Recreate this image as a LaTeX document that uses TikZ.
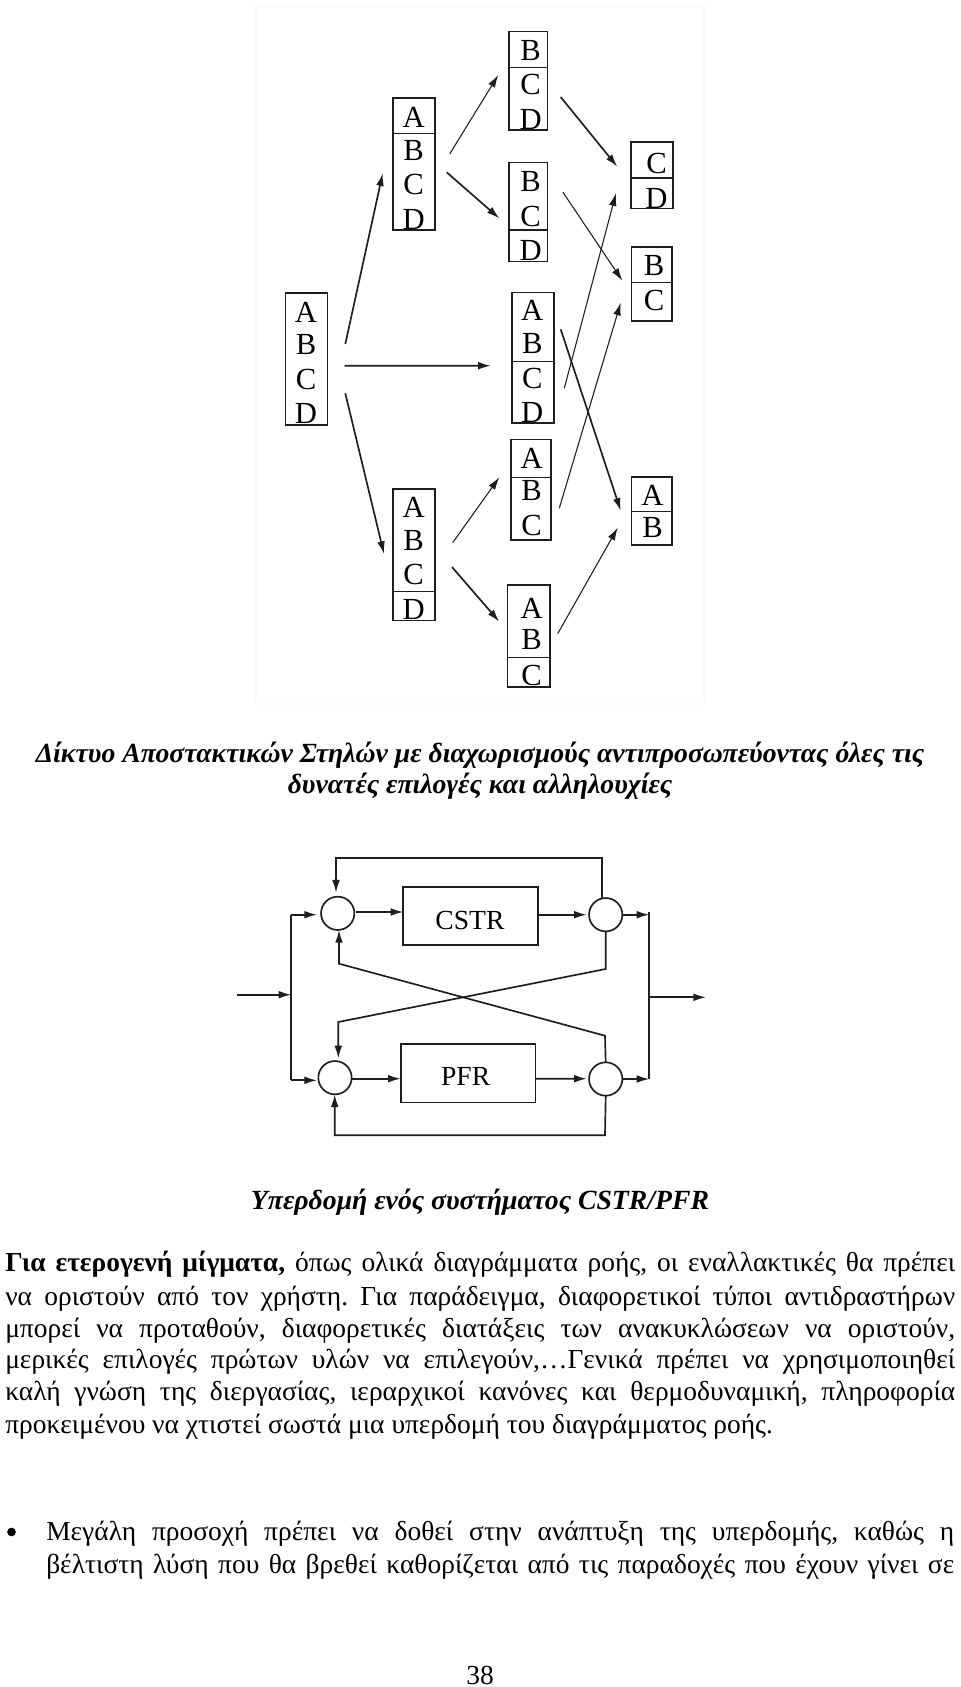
\documentclass[tikz,border=0pt]{standalone}
\usepackage{fontspec}
\setmainfont{Liberation Serif}
\usetikzlibrary{arrows.meta}

\definecolor{scanframe}{HTML}{FCFCEE}
\definecolor{inkline}{HTML}{1E1E1E}
\tikzset{
  stackbox/.style={draw=inkline,line width=1.2pt,inner sep=0pt,outer sep=0pt},
  stackdiv/.style={draw=inkline,line width=1pt},
  stackletter/.style={font=\fontsize{23}{26}\selectfont,inner sep=0pt},
  flow/.style={draw=inkline,line width=1.25pt,-{Latex[length=9.5pt,width=5.8pt]}},
  flowthin/.style={flow,line width=0.8pt},
  plainline/.style={draw=inkline,line width=1.25pt},
  mixer/.style={circle,draw=inkline,line width=1.25pt,minimum size=25pt,inner sep=0pt,outer sep=0pt},
  unitbox/.style={draw=inkline,line width=1.25pt,inner sep=0pt,outer sep=0pt},
  unitlabel/.style={font=\fontsize{20.7}{24}\selectfont,inner sep=0pt},
  caption/.style={font=\fontsize{20.8}{24}\selectfont\bfseries\itshape,inner sep=0pt,anchor=base},
  bodytext/.style={font=\fontsize{20.6}{24}\selectfont,inner sep=0pt,anchor=base west}
}
\newcommand{\fullline}[2]{\makebox[#1][s]{\frenchspacing #2}}

\begin{document}
\begin{tikzpicture}[x=0.75pt,y=-0.75pt]
\useasboundingbox (0,0) rectangle (960,1687);
\fill[white] (0,0) rectangle (960,1687);

%% Scan frame
\draw[scanframe,line width=1.2pt] (256,6) rectangle (704,704);

%% Column boxes
\node[stackbox,minimum width=31.5pt,minimum height=99pt] (b1) at (306.5,359) {};
\node[stackbox,minimum width=31.7pt,minimum height=98.8pt] (b2) at (413.85,164.15) {};
\node[stackbox,minimum width=29pt,minimum height=74.2pt] (b3) at (528.35,80.8) {};
\node[stackbox,minimum width=29pt,minimum height=74pt] (b4) at (528.35,212) {};
\node[stackbox,minimum width=31.7pt,minimum height=98.2pt] (b5) at (532.85,357.8) {};
\node[stackbox,minimum width=30.4pt,minimum height=75.5pt] (b6) at (531,489.65) {};
\node[stackbox,minimum width=31.7pt,minimum height=98.5pt] (b7) at (413.85,554.65) {};
\node[stackbox,minimum width=31.8pt,minimum height=76.3pt] (b8) at (528.5,636.15) {};
\node[stackbox,minimum width=31.3pt,minimum height=50.2pt] (b9) at (652.15,175.2) {};
\node[stackbox,minimum width=30.5pt,minimum height=55.3pt] (b10) at (651.65,283.85) {};
\node[stackbox,minimum width=30.5pt,minimum height=51.2pt] (b11) at (651.65,511.15) {};

%% Letters
\foreach \t/\y in {A/312,B/345,C/379,D/413} \node[stackletter] (b1\t) at (306,\y) {\t};
\foreach \t/\y in {A/117,B/150.5,C/184,D/219} \node[stackletter] (b2\t) at (413.7,\y) {\t};
\foreach \t/\y in {B/50.5,C/84.5,D/119} \node[stackletter] (b3\t) at (530.7,\y) {\t};
\foreach \t/\y in {B/182,C/216,D/250} \node[stackletter] (b4\t) at (530.7,\y) {\t};
\foreach \t/\y in {A/310.5,B/344,C/378.5,D/412} \node[stackletter] (b5\t) at (532.3,\y) {\t};
\foreach \t/\y in {A/458,B/491,C/525} \node[stackletter] (b6\t) at (531.7,\y) {\t};
\foreach \t/\y in {A/507,B/540,C/574,D/609} \node[stackletter] (b7\t) at (413.7,\y) {\t};
\foreach \t/\y in {A/608,B/639.5,C/675} \node[stackletter] (b8\t) at (531.7,\y) {\t};
\foreach \t/\y in {C/163.5,D/198} \node[stackletter] (b9\t) at (656.5,\y) {\t};
\foreach \t/\y in {B/266,C/300} \node[stackletter] (b10\t) at (654,\y) {\t};
\foreach \t/\y in {A/495,B/528} \node[stackletter] (b11\t) at (652.5,\y) {\t};

%% Dividers
\draw[stackdiv] (b2.west |- 0,133.3) -- (b2.east |- 0,133.3);
\draw[stackdiv] (b3.west |- 0,67.7) -- (b3.east |- 0,67.7);
\draw[stackdiv] (b4.west |- 0,230) -- (b4.east |- 0,230);
\draw[stackdiv] (b5.west |- 0,361.3) -- (b5.east |- 0,361.3);
\draw[stackdiv] (b6.west |- 0,477.3) -- (b6.east |- 0,477.3);
\draw[stackdiv] (b7.west |- 0,591.7) -- (b7.east |- 0,591.7);
\draw[stackdiv] (b8.west |- 0,657.3) -- (b8.east |- 0,657.3);
\draw[stackdiv] (b9.west |- 0,178) -- (b9.east |- 0,178);
\draw[stackdiv] (b10.west |- 0,282.3) -- (b10.east |- 0,282.3);
\draw[stackdiv] (b11.west |- 0,511.7) -- (b11.east |- 0,511.7);

%% Arrows between columns
\draw[flow] ([shift={(17.8,-15)}]b1.east) -- ([shift={(-10,9.15)}]b2.west);
\draw[flow] ([shift={(17.2,6.7)}]b1.east) -- ([shift={(-21,7.9)}]b5.west);
\draw[flow] ([shift={(17.8,34.3)}]b1.east) -- ([shift={(-8.7,-0.65)}]b7.west);
\draw[flowthin] ([shift={(14.7,-10.15)}]b2.east) -- ([shift={(-10.7,-5.8)}]b3.west);
\draw[flow] ([shift={(11.7,8.15)}]b2.east) -- ([shift={(-9.7,6.3)}]b4.west);
\draw[flow] ([shift={(13,16.2)}]b3.east) -- ([shift={(-14,-8.5)}]b9.west);
\draw[flowthin] ([shift={(15.3,-19.7)}]b4.east) -- ([shift={(-9,-3.15)}]b10.west);
\draw[flow] ([shift={(6.7,-28.5)}]b5.east) -- ([shift={(-10.6,-0.45)}]b11.west);
\draw[flowthin] ([shift={(10.3,30.5)}]b5.east) -- ([shift={(-15.3,18.1)}]b9.west);
\draw[flowthin] ([shift={(8,18.65)}]b6.east) -- ([shift={(-10.6,18.85)}]b10.west);
\draw[flowthin] ([shift={(17.7,-11.95)}]b7.east) -- ([shift={(-11.4,-12.35)}]b6.west);
\draw[flow] ([shift={(17,12.35)}]b7.east) -- ([shift={(-8,-14.45)}]b8.west);
\draw[flowthin] ([shift={(8,-2.45)}]b8.east) -- ([shift={(-13.6,16.55)}]b11.west);

%% Captions
\node[caption] (cap1) at (480,762) {Δίκτυο Αποστακτικών Στηλών με διαχωρισμούς αντιπροσωπεύοντας όλες τις};
\node[caption] (cap2) at (480,793) {δυνατές επιλογές και αλληλουχίες};
\node[caption] (cap3) at (480,1209) {Υπερδομή ενός συστήματος CSTR/PFR};

%% Units and mixers
\node[unitbox,minimum width=100.8pt,minimum height=43.5pt] (cstr) at (470.5,916) {};
\node[unitlabel] (cstrlabel) at (470,920) {CSTR};
\node[unitbox,minimum width=101pt,minimum height=44pt] (pfr) at (468,1073.3) {};
\node[unitlabel] (pfrlabel) at (465.7,1076.7) {PFR};
\node[mixer] (c1) at (337.7,913.3) {};
\node[mixer] (c2) at (605.7,914.7) {};
\node[mixer] (c3) at (335,1077.7) {};
\node[mixer] (c4) at (605.7,1079) {};

%% Feed and product lines
\coordinate (feedin) at (236.7,994.7);
\coordinate (feedbus) at (291.3,994.7);
\coordinate (bustop) at (291.3,914.7);
\coordinate (busbot) at (291.3,1080.3);
\coordinate (prodtop) at (649.3,912);
\coordinate (prodbot) at (649.3,1079);
\coordinate (prodmid) at (649.3,997.3);
\coordinate (prodout) at (706,997.3);
\draw[flow] (feedin) -- (feedbus);
\draw[plainline] (bustop) -- (busbot);
\draw[flow,shorten >=3pt] (bustop) -- (c1.west |- bustop);
\draw[flow,shorten >=1pt] (busbot) -- (c3.west |- busbot);
\draw[plainline] (prodtop) -- (prodbot);
\draw[flow] (c2.east |- 0,914.7) -- (prodtop |- 0,914.7);
\draw[flow] (c4.east) -- (prodbot);
\draw[flow] (prodmid) -- (prodout);

%% Through the units
\draw[flow] ([shift={(1.5,-1.3)}]c1.east) -- (cstr.west |- 0,912);
\draw[flow] (cstr.east |- 0,914.7) -- ([shift={(-2.3,0)}]c2.west);
\draw[flow] ([shift={(-0.6,1)}]c3.east) -- (pfr.west |- 0,1078.7);
\draw[flow] (pfr.east |- 0,1078.7) -- ([shift={(-2.3,-0.3)}]c4.west);

%% Recycles
\coordinate (toprecr) at (602.3,858);
\coordinate (toprecl) at (336,858);
\coordinate (botrecr) at (605,1135.3);
\coordinate (botrecl) at (334.7,1135.3);
\draw[flow,shorten >=3pt] (toprecr |- c2.north) -- (toprecr) -- (toprecl) -- (toprecl |- c1.north);
\draw[flow] (c4.south) -- (botrecr) -- (botrecl) -- (botrecl |- c3.south);

%% Crossing recycles
\coordinate (crossa) at (605.7,969);
\coordinate (crossb) at (338.3,1022);
\coordinate (crossc) at (605,1035.7);
\coordinate (crossd) at (339,963.7);
\draw[flow,shorten >=2pt] (c2.south) -- (crossa) -- (crossb) -- (crossb |- c3.north);
\draw[flow] (c4.north) -- (crossc) -- (crossd) -- (crossd |- c1.south);

%% Body text
\node[bodytext] (l1) at (5,1271) {\fullline{712.5pt}{{\bfseries Για ετερογενή μίγματα,} όπως ολικά διαγράμματα ροής, οι εναλλακτικές θα πρέπει}};
\node[bodytext] (l2) at (5,1305) {\fullline{712.5pt}{να οριστούν από τον χρήστη. Για παράδειγμα, διαφορετικοί τύποι αντιδραστήρων}};
\node[bodytext] (l3) at (5,1337) {\fullline{712.5pt}{μπορεί να προταθούν, διαφορετικές διατάξεις των ανακυκλώσεων να οριστούν,}};
\node[bodytext] (l4) at (5,1368) {\fullline{712.5pt}{μερικές επιλογές πρώτων υλών να επιλεγούν,…Γενικά πρέπει να χρησιμοποιηθεί}};
\node[bodytext] (l5) at (5,1400) {\fullline{712.5pt}{καλή γνώση της διεργασίας, ιεραρχικοί κανόνες και θερμοδυναμική, πληροφορία}};
\node[bodytext] (l6) at (5,1433) {προκειμένου να χτιστεί σωστά μια υπερδομή του διαγράμματος ροής.};

%% Bullet item
\node[circle,fill=black,minimum size=6.5pt,inner sep=0pt] (bullet) at (11.5,1532) {};
\node[bodytext] (l7) at (46,1540) {\fullline{681pt}{Μεγάλη προσοχή πρέπει να δοθεί στην ανάπτυξη της υπερδομής, καθώς η}};
\node[bodytext] (l8) at (46,1573) {\fullline{681pt}{βέλτιστη λύση που θα βρεθεί καθορίζεται από τις παραδοχές που έχουν γίνει σε}};

%% Page number
\node[bodytext,anchor=base] (pagenum) at (480,1684) {38};

\end{tikzpicture}
\end{document}
